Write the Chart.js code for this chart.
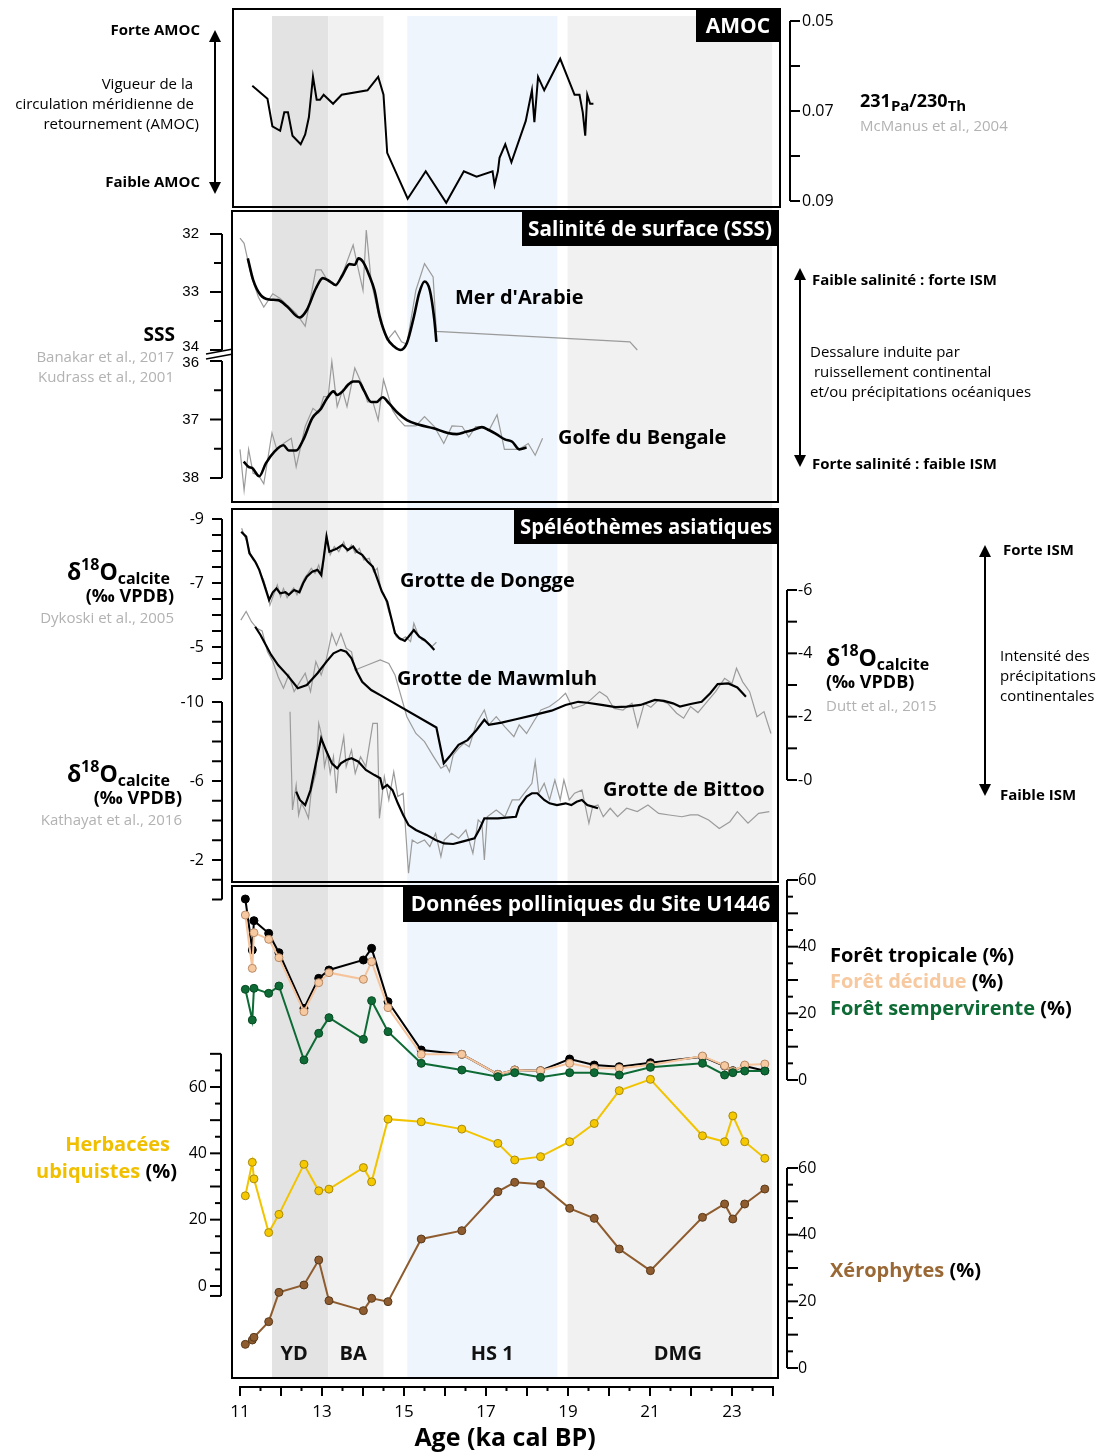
<!DOCTYPE html>
<html>
<head>
<meta charset="utf-8">
<script src="https://cdn.jsdelivr.net/npm/chart.js@4.4.0/dist/chart.umd.min.js"></script>
<style>
html, body { margin: 0; padding: 0; background: #fff; }
canvas { display: block; }
</style>
</head>
<body>
<canvas id="fig" width="1104" height="1454"></canvas>
<script>
// --- AMOC (McManus et al., 2004) ---
const amocAge = [11.30,11.67,11.79,11.98,12.08,12.17,12.28,12.48,12.59,12.68,12.78,12.87,12.95,13.04,13.27,13.48,14.11,14.37,14.50,14.59,15.09,15.53,16.03,16.46,16.77,17.16,17.21,17.29,17.33,17.47,17.62,17.97,18.12,18.18,18.27,18.42,18.81,19.16,19.28,19.36,19.42,19.47,19.54,19.62];
const amocPaTh = [0.0644,0.0673,0.0734,0.0744,0.0703,0.0703,0.0755,0.0774,0.0752,0.0714,0.0624,0.0675,0.0675,0.0664,0.0684,0.0664,0.0654,0.0624,0.0664,0.0793,0.0895,0.0834,0.0904,0.0834,0.0846,0.0834,0.0864,0.0834,0.0804,0.0774,0.0814,0.0722,0.0654,0.0725,0.0624,0.0654,0.0584,0.0664,0.0664,0.0703,0.0755,0.0664,0.0684,0.0684];

// --- SSS, Mer d'Arabie ---
const arAgeS = [11.19,11.32,11.50,11.71,11.93,12.15,12.45,12.63,12.85,13.02,13.20,13.33,13.50,13.67,13.80,13.89,14.00,14.15,14.28,14.41,14.59,14.76,14.92,15.07,15.24,15.37,15.50,15.63,15.74,15.79];
const arSssS = [32.42,32.79,33.05,33.13,33.14,33.25,33.44,33.31,32.94,32.76,32.82,32.88,32.71,32.52,32.53,32.42,32.48,32.71,32.97,33.43,33.80,33.94,34.00,33.88,33.43,33.02,32.82,32.97,33.48,33.86];
const arAgeR = [11.00,11.10,11.28,11.45,11.58,11.80,11.98,12.37,12.59,12.85,12.98,13.15,13.35,13.54,13.76,13.87,14.00,14.08,14.20,14.41,14.59,14.78,14.94,15.07,15.29,15.50,15.71,15.79,20.51,20.69];
const arSssR = [32.07,32.16,32.74,33.09,33.26,33.03,33.11,33.37,33.59,32.62,32.62,32.82,32.90,32.61,32.19,32.56,32.97,31.93,32.82,33.48,33.83,33.67,33.86,33.90,32.97,32.51,32.74,33.68,33.86,34.00];

// --- SSS, Golfe du Bengale ---
const bgAgeS = [11.09,11.21,11.30,11.47,11.63,11.84,12.06,12.19,12.37,12.54,12.76,12.98,13.12,13.28,13.37,13.50,13.63,13.76,13.89,14.02,14.20,14.33,14.48,14.63,14.85,15.07,15.37,15.72,16.07,16.29,16.51,16.68,16.90,17.07,17.25,17.46,17.64,17.81,17.99];
const bgSssS = [37.72,37.81,37.83,37.97,37.75,37.55,37.44,37.53,37.53,37.35,36.98,36.81,36.64,36.52,36.58,36.52,36.41,36.35,36.35,36.50,36.70,36.70,36.62,36.72,36.89,37.01,37.09,37.15,37.23,37.25,37.21,37.18,37.13,37.18,37.25,37.34,37.38,37.51,37.48];
const bgAgeR = [11.00,11.10,11.21,11.32,11.45,11.58,11.78,11.90,12.06,12.25,12.37,12.59,12.78,12.92,13.04,13.15,13.24,13.37,13.50,13.61,13.80,14.00,14.11,14.24,14.37,14.50,14.72,14.85,15.02,15.29,15.50,15.74,15.97,16.17,16.42,16.58,16.75,16.90,17.07,17.27,17.45,17.66,17.81,18.03,18.20,18.38];
const bgSssR = [37.51,38.21,37.51,37.92,37.95,38.10,37.23,37.52,37.41,37.32,37.81,37.12,36.81,36.89,36.61,36.61,36.01,36.78,36.50,36.78,36.12,36.44,36.70,36.70,37.01,36.32,36.84,36.98,37.11,37.11,36.95,37.12,37.41,37.11,37.12,37.30,37.12,37.12,37.19,36.92,37.51,37.51,37.51,37.41,37.61,37.32];

// --- Grotte de Dongge ---
const dgAgeS = [11.03,11.15,11.23,11.37,11.47,11.58,11.71,11.80,11.89,11.98,12.11,12.19,12.32,12.45,12.54,12.63,12.76,12.89,12.98,13.04,13.11,13.18,13.28,13.37,13.50,13.63,13.76,13.85,13.98,14.11,14.24,14.33,14.46,14.59,14.69,14.78,14.89,15.02,15.11,15.24,15.37,15.50,15.63,15.74];
const dgD18S = [-8.60,-8.45,-7.93,-7.67,-7.41,-6.99,-6.47,-6.71,-6.83,-6.68,-6.71,-6.63,-6.78,-6.71,-6.99,-7.20,-7.35,-7.41,-7.25,-7.77,-8.45,-7.98,-8.03,-8.08,-8.19,-8.03,-8.14,-7.98,-7.88,-7.67,-7.51,-7.20,-6.73,-6.42,-5.90,-5.43,-5.27,-5.19,-5.32,-5.53,-5.32,-5.22,-5.06,-4.91];
const dgAgeR = [11.04,11.10,11.17,11.26,11.32,11.41,11.50,11.58,11.67,11.73,11.82,11.91,11.99,12.06,12.15,12.24,12.31,12.39,12.48,12.57,12.66,12.74,12.83,12.92,13.00,13.07,13.11,13.20,13.30,13.41,13.53,13.61,13.72,13.81,13.91,14.02,14.15,14.26,14.35,14.43,14.52,14.63,14.72,14.81,14.92,15.04,15.16,15.24,15.33,15.44,15.55,15.68,15.79];
const dgD18R = [-8.71,-8.50,-8.29,-7.88,-7.72,-7.61,-7.30,-7.09,-6.68,-6.31,-6.63,-6.94,-6.57,-6.83,-6.54,-6.73,-6.85,-6.63,-6.89,-7.15,-7.30,-7.46,-7.30,-7.56,-7.20,-8.08,-8.50,-7.88,-8.14,-7.98,-8.29,-7.98,-8.19,-7.93,-8.08,-7.72,-7.77,-7.35,-7.46,-6.83,-6.63,-6.10,-5.79,-5.32,-5.22,-5.32,-5.17,-5.74,-5.43,-5.22,-5.17,-5.01,-5.15];

// --- Grotte de Mawmluh ---
const mwAgeS = [11.37,11.50,11.63,11.76,11.93,12.15,12.41,12.63,12.89,13.11,13.28,13.46,13.59,13.72,13.85,13.98,14.20,14.42,15.79,15.97,16.11,16.33,16.55,16.77,16.96,17.07,17.38,17.73,18.16,18.60,18.94,19.25,19.47,19.82,20.16,20.43,20.77,21.12,21.34,21.56,21.73,21.99,22.26,22.47,22.65,22.91,23.13,23.34];
const mwD18S = [-4.84,-4.58,-4.26,-3.95,-3.63,-3.32,-2.90,-3.00,-3.37,-3.74,-4.00,-4.11,-4.05,-3.84,-3.42,-3.10,-2.84,-2.68,-1.66,-0.53,-0.74,-1.11,-1.26,-1.58,-1.90,-1.74,-1.81,-1.92,-2.05,-2.19,-2.37,-2.47,-2.44,-2.37,-2.30,-2.32,-2.37,-2.53,-2.50,-2.42,-2.32,-2.40,-2.47,-2.74,-3.03,-3.05,-2.92,-2.63];
const mwAgeR = [11.02,11.15,11.28,11.41,11.54,11.67,11.80,11.93,12.06,12.19,12.32,12.46,12.59,12.72,12.85,12.98,13.11,13.24,13.35,13.46,13.59,13.72,13.81,13.91,14.11,14.42,14.63,14.78,15.07,15.29,15.50,15.72,15.90,16.03,16.11,16.20,16.33,16.46,16.59,16.77,16.96,17.07,17.25,17.46,17.68,17.81,17.99,18.16,18.34,18.55,18.77,18.94,19.12,19.38,19.55,19.77,19.95,20.12,20.34,20.56,20.70,20.86,21.02,21.21,21.43,21.65,21.82,21.99,22.17,22.43,22.60,22.82,23.00,23.11,23.26,23.43,23.61,23.78,23.95];
const mwD18R = [-5.05,-5.32,-5.00,-4.79,-4.71,-4.05,-3.74,-3.26,-2.90,-3.32,-2.79,-3.10,-3.37,-2.79,-3.74,-3.32,-3.84,-4.63,-4.26,-4.63,-4.16,-4.05,-3.47,-3.53,-3.63,-3.79,-3.68,-3.32,-2.00,-1.47,-1.21,-0.74,-0.37,-0.47,-0.26,-0.79,-1.00,-1.16,-1.05,-1.79,-2.21,-1.74,-2.00,-1.68,-1.37,-1.74,-1.47,-1.84,-2.21,-2.32,-2.53,-2.74,-2.26,-2.37,-2.53,-2.79,-2.63,-2.26,-2.21,-2.42,-1.68,-2.42,-2.30,-2.53,-2.42,-2.11,-1.95,-2.32,-2.13,-2.53,-2.79,-3.21,-3.05,-3.53,-3.10,-2.79,-2.00,-2.16,-1.47];

// --- Grotte de Bittoo ---
const btAgeS = [12.37,12.46,12.59,12.72,12.85,12.98,13.11,13.24,13.37,13.46,13.59,13.72,13.89,14.07,14.28,14.42,14.48,14.59,14.72,14.85,14.98,15.11,15.29,15.55,15.77,15.98,16.20,16.42,16.72,16.85,16.96,17.29,17.73,17.81,17.99,18.12,18.25,18.42,18.55,18.73,18.94,19.08,19.21,19.34,19.47,19.60,19.73];
const btD18S = [-5.46,-5.04,-4.78,-5.54,-6.89,-8.16,-7.49,-6.89,-6.64,-6.89,-7.06,-7.15,-6.98,-6.56,-6.30,-6.14,-5.63,-5.80,-5.54,-4.87,-4.28,-3.77,-3.52,-3.27,-3.01,-2.84,-2.81,-2.93,-3.10,-3.60,-4.11,-4.11,-4.19,-4.70,-5.21,-5.38,-5.38,-5.04,-4.87,-4.78,-4.87,-4.78,-4.95,-5.04,-4.78,-4.70,-4.62];
const btAgeR = [12.22,12.28,12.37,12.43,12.50,12.59,12.67,12.74,12.85,12.92,13.00,13.06,13.13,13.20,13.28,13.35,13.41,13.53,13.59,13.72,13.81,13.94,14.07,14.24,14.35,14.40,14.52,14.63,14.75,14.85,14.98,15.11,15.20,15.33,15.50,15.63,15.77,15.90,15.98,16.16,16.33,16.51,16.68,16.81,16.90,16.96,17.03,17.25,17.46,17.64,17.81,17.99,18.12,18.20,18.29,18.42,18.55,18.68,18.81,18.90,19.03,19.16,19.34,19.51,19.60,19.73,19.86,20.03,20.21,20.43,20.69,20.95,21.21,21.47,21.78,21.99,22.17,22.43,22.69,22.95,23.13,23.39,23.65,23.91];
const btD18R = [-9.51,-4.53,-5.80,-4.28,-4.87,-4.53,-4.11,-5.54,-6.39,-8.92,-8.24,-6.73,-7.40,-6.39,-7.23,-5.38,-6.89,-8.24,-6.73,-7.57,-6.39,-7.23,-6.73,-8.92,-8.92,-4.11,-6.22,-5.04,-6.47,-5.21,-5.38,-1.33,-3.01,-2.84,-3.01,-2.68,-3.35,-2.17,-3.01,-3.35,-3.10,-3.52,-2.34,-4.03,-3.86,-2.00,-4.19,-4.53,-4.19,-5.04,-5.04,-5.54,-5.88,-6.98,-5.38,-5.88,-5.04,-6.05,-5.04,-6.05,-5.04,-5.38,-5.54,-3.86,-4.70,-4.78,-4.19,-4.62,-4.19,-4.62,-4.45,-4.78,-4.36,-4.28,-4.19,-4.28,-4.28,-4.03,-3.60,-3.94,-4.45,-3.86,-4.36,-4.45];

// --- Pollen, Site U1446 (%) ---
const polAge = [11.13,11.30,11.34,11.70,11.95,12.56,12.92,13.17,14.01,14.21,14.61,15.42,16.41,17.29,17.70,18.33,19.04,19.64,20.25,21.01,22.28,22.82,23.02,23.31,23.80];
const foretTropicale = [54.3,39.0,47.8,44.0,38.2,21.5,30.5,33.0,36.0,39.5,23.5,9.0,7.7,1.7,3.0,2.8,6.3,4.5,4.0,5.2,7.0,4.2,2.8,4.2,2.8];
const foretDecidue = [49.5,33.5,44.2,42.2,36.7,20.5,29.2,32.2,30.2,35.5,21.7,7.7,7.7,1.7,3.0,2.8,5.0,3.5,3.5,4.5,7.2,4.3,2.7,4.5,4.8];
const foretSemper = [27.2,18.0,27.5,26.0,28.2,6.0,14.0,18.7,12.2,23.8,14.5,5.0,3.0,1.0,2.2,0.8,2.2,2.2,1.5,3.8,5.0,1.5,2.2,2.7,2.7];
const herbacees = [27.2,37.3,32.3,16.1,21.6,36.7,28.7,29.2,35.7,31.4,50.3,49.5,47.3,43.0,38.0,39.0,43.5,49.0,58.9,62.3,45.3,43.5,51.3,43.5,38.5];
const xerophytes = [7.1,8.4,9.2,13.9,22.7,24.9,32.4,20.2,17.2,20.9,19.9,38.7,41.2,52.9,55.7,55.1,47.9,44.9,35.7,29.2,45.2,49.2,44.7,49.2,53.7];

// --- periods and tick labels ---
const periods = [
  { name: 'YD', from: 11.78, to: 13.15, color: '#e3e3e3', at: 12.32 },
  { name: 'BA', from: 13.15, to: 14.50, color: '#f1f1f1', at: 13.76 },
  { name: 'HS 1', from: 15.08, to: 18.74, color: '#eef5fc', at: 17.15 },
  { name: 'DMG', from: 18.99, to: 23.98, color: '#f1f1f1', at: 21.68 }
];
const ageTicks = [11, 13, 15, 17, 19, 21, 23];
const amocTicks = [0.05, 0.07, 0.09];
const arabTicks = [32, 33, 34];
const bengTicks = [36, 37, 38];
const donggeTicks = [-9, -7, -5];
const mawTicks = [-6, -4, -2, 0];
const bittooTicks = [-10, -6, -2];
const foretTicks = [0, 20, 40, 60];
const herbTicks = [0, 20, 40, 60];
const xeroTicks = [0, 20, 40, 60];

// chart area in page pixels
const L = 232, R = 778, T = 9, B = 1380;

function xFit(v1, p1, v2, p2) {
  const k = (p2 - p1) / (v2 - v1);
  const min = v1 - (p1 - L) / k;
  return { type: 'linear', display: false, min: min, max: min + (R - L) / k };
}
function yFit(v1, p1, v2, p2) {
  const k = (p2 - p1) / (v2 - v1);
  if (k > 0) {
    const min = v1 - (p1 - T) / k;
    return { type: 'linear', display: false, reverse: true, min: min, max: min + (B - T) / k };
  }
  const min = v1 - (B - p1) / -k;
  return { type: 'linear', display: false, min: min, max: min + (B - T) / -k };
}

function series(label, ages, vals, yID, color, width, extra) {
  return Object.assign({
    label: label,
    data: ages.map((a, i) => ({ x: a, y: vals[i] })),
    xAxisID: 'x', yAxisID: yID,
    borderColor: color, backgroundColor: color,
    borderWidth: width, pointRadius: 0, tension: 0, fill: false
  }, extra || {});
}
function pollen(label, vals, yID, line, fillC, edge, order) {
  return series(label, polAge, vals, yID, line, 2, {
    pointRadius: 4, pointBackgroundColor: fillC, pointBorderColor: edge, pointBorderWidth: 1, order: order
  });
}

const FONT = '"Open Sans", Lato, sans-serif';

function txt(ctx, s, x, y, font, color, align) {
  ctx.font = font;
  ctx.fillStyle = color || '#000';
  ctx.textAlign = align || 'left';
  ctx.textBaseline = 'middle';
  ctx.fillText(s, x, y);
}
function runs(ctx, parts, x, y, align) {
  let w = 0;
  parts.forEach(p => { ctx.font = p.f; w += ctx.measureText(p.t).width; });
  let cx = align === 'right' ? x - w : x;
  ctx.textAlign = 'left';
  ctx.textBaseline = 'alphabetic';
  parts.forEach(p => {
    ctx.font = p.f;
    ctx.fillStyle = p.c || '#000';
    ctx.fillText(p.t, cx, y + (p.dy || 0));
    cx += ctx.measureText(p.t).width;
  });
}
function delta(ctx, x, y, align) {
  runs(ctx, [
    { t: 'δ', f: 'bold 23px ' + FONT },
    { t: '18', f: 'bold 16px ' + FONT, dy: -10 },
    { t: 'O', f: 'bold 23px ' + FONT },
    { t: 'calcite', f: 'bold 16px ' + FONT, dy: 4 }
  ], x, y, align);
}
function arrow(ctx, x, y0, y1) {
  ctx.strokeStyle = '#000';
  ctx.fillStyle = '#000';
  ctx.lineWidth = 2;
  ctx.beginPath(); ctx.moveTo(x, y0 + 8); ctx.lineTo(x, y1 - 8); ctx.stroke();
  ctx.beginPath(); ctx.moveTo(x, y0); ctx.lineTo(x - 6, y0 + 12); ctx.lineTo(x + 6, y0 + 12); ctx.closePath(); ctx.fill();
  ctx.beginPath(); ctx.moveTo(x, y1); ctx.lineTo(x - 6, y1 - 12); ctx.lineTo(x + 6, y1 - 12); ctx.closePath(); ctx.fill();
}

// vertical axis drawn from a chart scale
function yAxis(ctx, chart, o) {
  const s = chart.scales[o.id];
  const dir = o.side === 'left' ? -1 : 1;
  const ends = [o.from, o.to];
  if (o.endCap !== undefined) ends.push(o.endCap);
  const ps = ends.map(v => s.getPixelForValue(v));
  ctx.strokeStyle = '#000';
  ctx.lineWidth = 2;
  ctx.beginPath();
  ctx.moveTo(o.x, Math.min.apply(null, ps));
  ctx.lineTo(o.x, Math.max.apply(null, ps));
  ctx.stroke();
  const n = Math.round(Math.abs(o.to - o.from) / o.step);
  const sgn = o.to > o.from ? 1 : -1;
  for (let i = 0; i <= n; i++) {
    const v = o.from + sgn * i * o.step;
    const major = o.majorEvery ? Math.abs(Math.round(v / o.majorEvery) * o.majorEvery - v) < 1e-6 : true;
    const y = s.getPixelForValue(v);
    ctx.beginPath();
    ctx.moveTo(o.x, y);
    ctx.lineTo(o.x + dir * (major ? o.tick : o.minor), y);
    ctx.stroke();
  }
  if (o.endCap !== undefined) {
    const y = s.getPixelForValue(o.endCap);
    ctx.beginPath(); ctx.moveTo(o.x, y); ctx.lineTo(o.x + dir * o.tick, y); ctx.stroke();
  }
  o.labels.forEach(v => {
    const y = s.getPixelForValue(v) + (o.dy ? o.dy(v) : 0);
    txt(ctx, o.fmt ? o.fmt(v) : String(v), o.lx, y, o.font, '#000', o.side === 'left' ? 'right' : 'left');
  });
}

const decor = {
  id: 'decor',
  beforeDatasetsDraw(chart) {
    const ctx = chart.ctx;
    const xs = chart.scales.x;
    ctx.save();
    periods.forEach(p => {
      const a = xs.getPixelForValue(p.from), b = xs.getPixelForValue(p.to);
      ctx.fillStyle = p.color;
      ctx.fillRect(a, 16, b - a, 1378 - 16);
    });
    ctx.restore();
  },
  afterDatasetsDraw(chart) {
    const ctx = chart.ctx;
    const xs = chart.scales.x;
    ctx.save();
    // panel frames
    ctx.strokeStyle = '#000';
    ctx.lineWidth = 2;
    [[233, 9, 780, 207], [232, 211, 778, 502], [232, 509, 778, 882], [232, 886, 778, 1378]].forEach(f => {
      ctx.strokeRect(f[0], f[1], f[2] - f[0], f[3] - f[1]);
    });
    // panel titles
    [['AMOC', 696, 10, 42, 780], ['Salinité de surface (SSS)', 522, 212, 246, 778],
     ['Spéléothèmes asiatiques', 514, 510, 544, 778], ['Données polliniques du Site U1446', 403, 887, 922, 778]].forEach(b => {
      ctx.fillStyle = '#000';
      ctx.fillRect(b[1], b[2], b[4] - b[1], b[3] - b[2]);
      ctx.font = 'bold 21px ' + FONT;
      ctx.fillStyle = '#fff';
      ctx.textAlign = 'center';
      ctx.textBaseline = 'middle';
      ctx.fillText(b[0], (b[1] + b[4]) / 2, (b[2] + b[3]) / 2 + 1, b[4] - b[1] - 12);
    });
    // period names
    periods.forEach(p => txt(ctx, p.name, xs.getPixelForValue(p.at), 1354, 'bold 20px ' + FONT, '#111', 'center'));
    // curve names
    const nf = 'bold 20px ' + FONT;
    txt(ctx, "Mer d'Arabie", 455, 298, nf);
    txt(ctx, 'Golfe du Bengale', 558, 438, nf);
    txt(ctx, 'Grotte de Dongge', 400, 581, nf);
    txt(ctx, 'Grotte de Mawmluh', 397, 679, nf);
    txt(ctx, 'Grotte de Bittoo', 603, 790, nf);
    ctx.restore();
  },
  afterDraw(chart) {
    const ctx = chart.ctx;
    const xs = chart.scales.x;
    ctx.save();
    const num = '16px ' + FONT;
    const ari = '15px "Liberation Sans", Arial, sans-serif';

    // x axis
    const x0 = xs.getPixelForValue(11), x1 = xs.getPixelForValue(24);
    ctx.strokeStyle = '#000';
    ctx.lineWidth = 2;
    ctx.beginPath(); ctx.moveTo(x0, 1387); ctx.lineTo(x1, 1387); ctx.stroke();
    for (let v = 11; v <= 24.001; v += 0.5) {
      const x = xs.getPixelForValue(v);
      const major = Math.abs(v - Math.round(v)) < 1e-6;
      ctx.beginPath(); ctx.moveTo(x, 1386); ctx.lineTo(x, 1386 + (major ? 10 : 5)); ctx.stroke();
    }
    ageTicks.forEach(v => txt(ctx, String(v), xs.getPixelForValue(v), 1412, '17px ' + FONT, '#000', 'center'));
    txt(ctx, 'Age (ka cal BP)', 505, 1439, 'bold 25px ' + FONT, '#000', 'center');

    // y axes
    yAxis(ctx, chart, { id: 'yA', side: 'right', x: 790, from: 0.05, to: 0.09, step: 0.01, tick: 10, minor: 10, labels: amocTicks, lx: 802, font: num, fmt: v => v.toFixed(2) });
    yAxis(ctx, chart, { id: 'yAS', side: 'left', x: 222, from: 32, to: 34, step: 0.5, majorEvery: 1, tick: 12, minor: 8, labels: arabTicks, lx: 199, font: ari, dy: v => (v === 34 ? -3 : 0) });
    yAxis(ctx, chart, { id: 'yBB', side: 'left', x: 222, from: 36, to: 38, step: 0.5, majorEvery: 1, tick: 12, minor: 8, labels: bengTicks, lx: 199, font: ari, dy: v => (v === 36 ? 2 : 0) });
    yAxis(ctx, chart, { id: 'yD', side: 'left', x: 222, from: -9, to: -4, step: 0.5, tick: 10, minor: 10, labels: donggeTicks, lx: 204, font: num });
    yAxis(ctx, chart, { id: 'yB', side: 'left', x: 222, from: -10, to: -1, step: 1, tick: 10, minor: 10, endCap: 0, labels: bittooTicks, lx: 204, font: num });
    yAxis(ctx, chart, { id: 'yM', side: 'right', x: 787, from: -6, to: 0, step: 1, tick: 10, minor: 10, labels: mawTicks, lx: 798, font: num, fmt: v => '-' + Math.abs(v) });
    yAxis(ctx, chart, { id: 'yF', side: 'right', x: 787, from: 0, to: 60, step: 5, majorEvery: 10, tick: 11, minor: 6, labels: foretTicks, lx: 798, font: num });
    yAxis(ctx, chart, { id: 'yX', side: 'right', x: 787, from: 0, to: 60, step: 5, majorEvery: 10, tick: 11, minor: 6, labels: xeroTicks, lx: 798, font: num });
    yAxis(ctx, chart, { id: 'yH', side: 'left', x: 221, from: 0, to: 70, step: 5, majorEvery: 10, tick: 11, minor: 6, endCap: -3, labels: herbTicks, lx: 207, font: num });

    // SSS axis break
    ctx.lineWidth = 1.5;
    ctx.beginPath(); ctx.moveTo(206, 354); ctx.lineTo(233, 349); ctx.stroke();
    ctx.beginPath(); ctx.moveTo(206, 359); ctx.lineTo(233, 354); ctx.stroke();

    const gray = '#b2b2b2';
    const b15 = 'bold 15px ' + FONT, r15 = '15px ' + FONT;

    // AMOC annotations
    txt(ctx, 'Forte AMOC', 200, 31, b15, '#000', 'right');
    txt(ctx, 'Vigueur de la', 193, 85, r15, '#000', 'right');
    txt(ctx, 'circulation méridienne de', 194, 105, r15, '#000', 'right');
    txt(ctx, 'retournement (AMOC)', 199, 125, r15, '#000', 'right');
    txt(ctx, 'Faible AMOC', 200, 183, b15, '#000', 'right');
    arrow(ctx, 215, 30, 194);
    runs(ctx, [
      { t: '231', f: 'bold 18px ' + FONT },
      { t: 'Pa', f: 'bold 15px ' + FONT, dy: 4 },
      { t: '/', f: 'bold 18px ' + FONT },
      { t: '230', f: 'bold 18px ' + FONT },
      { t: 'Th', f: 'bold 15px ' + FONT, dy: 4 }
    ], 860, 107, 'left');
    txt(ctx, 'McManus et al., 2004', 860, 127, r15, gray, 'left');

    // SSS annotations
    txt(ctx, 'SSS', 175, 336, 'bold 19px ' + FONT, '#000', 'right');
    txt(ctx, 'Banakar et al., 2017', 174, 358, r15, gray, 'right');
    txt(ctx, 'Kudrass et al., 2001', 174, 378, r15, gray, 'right');
    arrow(ctx, 800, 268, 467);
    txt(ctx, 'Faible salinité : forte ISM', 812, 281, b15, '#000', 'left');
    txt(ctx, 'Dessalure induite par', 810, 353, r15, '#000', 'left');
    txt(ctx, ' ruissellement continental', 810, 373, r15, '#000', 'left');
    txt(ctx, 'et/ou précipitations océaniques', 810, 393, r15, '#000', 'left');
    txt(ctx, 'Forte salinité : faible ISM', 812, 465, b15, '#000', 'left');

    // speleothem annotations
    delta(ctx, 170, 580, 'right');
    txt(ctx, '(‰ VPDB)', 174, 597, 'bold 18px ' + FONT, '#000', 'right');
    txt(ctx, 'Dykoski et al., 2005', 174, 619, r15, gray, 'right');
    delta(ctx, 170, 782, 'right');
    txt(ctx, '(‰ VPDB)', 182, 799, 'bold 18px ' + FONT, '#000', 'right');
    txt(ctx, 'Kathayat et al., 2016', 182, 821, r15, gray, 'right');
    delta(ctx, 826, 666, 'left');
    txt(ctx, '(‰ VPDB)', 826, 683, 'bold 18px ' + FONT, '#000', 'left');
    txt(ctx, 'Dutt et al., 2015', 826, 707, r15, gray, 'left');
    arrow(ctx, 985, 545, 796);
    txt(ctx, 'Forte ISM', 1003, 551, b15, '#000', 'left');
    txt(ctx, 'Intensité des', 1000, 657, r15, '#000', 'left');
    txt(ctx, 'précipitations', 1000, 677, r15, '#000', 'left');
    txt(ctx, 'continentales', 1000, 697, r15, '#000', 'left');
    txt(ctx, 'Faible ISM', 1000, 796, b15, '#000', 'left');

    // pollen annotations
    const pb = 'bold 20px ' + FONT;
    runs(ctx, [{ t: 'Forêt tropicale', f: pb, c: '#000' }, { t: ' (%)', f: pb, c: '#000' }], 830, 962, 'left');
    runs(ctx, [{ t: 'Forêt décidue', f: pb, c: '#f7c9a0' }, { t: ' (%)', f: pb, c: '#000' }], 830, 988, 'left');
    runs(ctx, [{ t: 'Forêt sempervirente', f: pb, c: '#0e6b35' }, { t: ' (%)', f: pb, c: '#000' }], 830, 1015, 'left');
    runs(ctx, [{ t: 'Xérophytes', f: pb, c: '#9a6835' }, { t: ' (%)', f: pb, c: '#000' }], 830, 1277, 'left');
    runs(ctx, [{ t: 'Herbacées', f: pb, c: '#f0c000' }], 170, 1151, 'right');
    runs(ctx, [{ t: 'ubiquistes', f: pb, c: '#f0c000' }, { t: ' (%)', f: pb, c: '#000' }], 177, 1178, 'right');
    ctx.restore();
  }
};

const scales = {
  x: xFit(11, 240, 24, 773),
  yA: yFit(0.05, 21, 0.09, 201),
  yAS: yFit(32, 234, 34, 350),
  yBB: yFit(36, 361, 38, 478),
  yD: yFit(-9, 519, -5, 647),
  yM: yFit(-6, 590, 0, 780),
  yB: yFit(-10, 702, -2, 860),
  yF: yFit(0, 1080, 60, 880),
  yH: yFit(0, 1286, 60, 1087),
  yX: yFit(0, 1368, 60, 1168)
};

const rawGray = '#9b9b9b';
const datasets = [
  series('AMOC 231Pa/230Th', amocAge, amocPaTh, 'yA', '#000', 2, { order: 5 }),
  series("Mer d'Arabie (brut)", arAgeR, arSssR, 'yAS', rawGray, 1.2, { order: 10 }),
  series("Mer d'Arabie", arAgeS, arSssS, 'yAS', '#000', 2.6, { order: 5, cubicInterpolationMode: 'monotone' }),
  series('Golfe du Bengale (brut)', bgAgeR, bgSssR, 'yBB', rawGray, 1.2, { order: 10 }),
  series('Golfe du Bengale', bgAgeS, bgSssS, 'yBB', '#000', 2.6, { order: 5, cubicInterpolationMode: 'monotone' }),
  series('Dongge (brut)', dgAgeR, dgD18R, 'yD', rawGray, 1.2, { order: 10 }),
  series('Dongge', dgAgeS, dgD18S, 'yD', '#000', 2.2, { order: 5 }),
  series('Mawmluh (brut)', mwAgeR, mwD18R, 'yM', rawGray, 1.2, { order: 10 }),
  series('Mawmluh', mwAgeS, mwD18S, 'yM', '#000', 2.2, { order: 5 }),
  series('Bittoo (brut)', btAgeR, btD18R, 'yB', rawGray, 1.2, { order: 10 }),
  series('Bittoo', btAgeS, btD18S, 'yB', '#000', 2.2, { order: 5 }),
  pollen('Forêt tropicale', foretTropicale, 'yF', '#000', '#000', '#000', 8),
  pollen('Forêt décidue', foretDecidue, 'yF', '#f5c49c', '#f7c9a0', '#b88a66', 7),
  pollen('Forêt sempervirente', foretSemper, 'yF', '#0e6b35', '#0e6b35', '#084a24', 6),
  pollen('Herbacées ubiquistes', herbacees, 'yH', '#f2c400', '#f5c800', '#a88a10', 5),
  pollen('Xérophytes', xerophytes, 'yX', '#8e5c2e', '#8e5c2e', '#5a3a1c', 5)
];

new Chart(document.getElementById('fig'), {
  type: 'line',
  data: { datasets: datasets },
  options: {
    responsive: false,
    animation: false,
    events: [],
    layout: { padding: { left: L, right: 1104 - R, top: T, bottom: 1454 - B } },
    scales: scales,
    plugins: { legend: { display: false }, tooltip: { enabled: false } }
  },
  plugins: [decor]
});
</script>
</body>
</html>
